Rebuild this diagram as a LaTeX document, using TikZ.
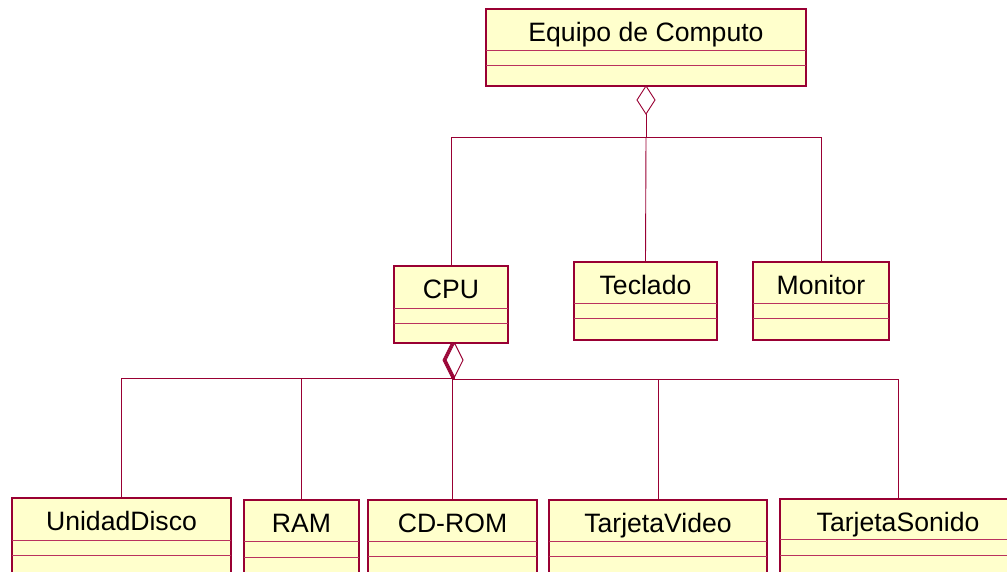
\documentclass[tikz,border=0pt]{standalone}
\usepackage{fontspec}
\setmainfont{Liberation Sans}
\usetikzlibrary{shapes.geometric,calc}
\definecolor{umlline}{RGB}{153,0,51}
\definecolor{umlsep}{RGB}{185,50,95}
\definecolor{umlfill}{RGB}{255,255,204}
\tikzset{
  cls/.style={rectangle, draw=umlline, fill=umlfill, line width=1.1pt, inner sep=0pt, outer sep=0pt, anchor=north west},
  lbl/.style={anchor=base, inner sep=0pt, font=\fontsize{26.6}{30}\selectfont},
  sepline/.style={draw=umlsep, line width=0.9pt},
  conn/.style={draw=umlline, line width=0.9pt},
  agg/.style={diamond, draw=umlline, fill=white, line width=0.9pt, inner sep=0pt, outer sep=0pt, anchor=north}
}
\newcommand{\umlbox}[8]{%
  \node[cls, minimum width={#4-#2}, minimum height={#5-#3}] (#1) at (#2,#3) {};
  \path[sepline] (#2,#6) -- (#4,#6) (#2,#7) -- (#4,#7);
  \node[lbl] (#1-t) at ($(#1.north)+(0,32)$) {#8};
}
\begin{document}
\begin{tikzpicture}[x=1pt,y=-1pt]
\useasboundingbox (0,0) rectangle (1007,571);
\fill[white] (0,0) rectangle (1007,571);
% classes
\umlbox{eq}{486}{9}{806}{86}{50}{65}{Equipo de Computo}
\umlbox{cpu}{394}{266}{508}{343}{308}{323}{CPU}
\umlbox{tec}{574}{262}{717}{340}{303}{318}{Teclado}
\umlbox{mon}{753}{262}{889}{340}{303}{318}{Monitor}
\umlbox{ud}{12}{498}{231}{578}{540}{555}{UnidadDisco}
\umlbox{ram}{244}{500}{359}{580}{541}{557}{RAM}
\umlbox{cd}{368}{500}{537}{580}{541}{556}{CD-ROM}
\umlbox{tv}{549}{500}{767}{580}{541}{556}{TarjetaVideo}
\umlbox{ts}{780}{499}{1016}{579}{539}{555}{TarjetaSonido}
% aggregation of Equipo de Computo
\node[agg, minimum width=18pt, minimum height=28pt] (d1) at (eq.south) {};
\coordinate (j1) at (646,137);
\draw[conn] (d1.south) -- (j1) -| (cpu.north);
\draw[conn] (j1) -- (tec.north);
\draw[conn] (j1) -| (mon.north);
% aggregations of CPU
\node[agg, minimum width=17pt, minimum height=34pt] (d2a) at (451.5,343) {};
\node[agg, minimum width=17pt, minimum height=34pt] (d2b) at (452.3,343) {};
\node[agg, minimum width=17pt, minimum height=34pt] (d2c) at (453,343) {};
\node[agg, minimum width=17pt, minimum height=34pt] (d2d) at (453.8,343) {};
\node[agg, minimum width=17pt, minimum height=34pt] (d2e) at (454.5,343) {};
\draw[conn] (d2a.south) -- ++(0,1) -| (ud.north);
\draw[conn] (d2b.south) -- ++(0,1) -| (ram.north);
\draw[conn] (d2c.south) -- ++(0,1) -| (cd.north);
\draw[conn] (d2d.south) -- ++(0,2) -| (tv.north);
\draw[conn] (d2e.south) -- ++(0,2) -| (ts.north);
\end{tikzpicture}
\end{document}
